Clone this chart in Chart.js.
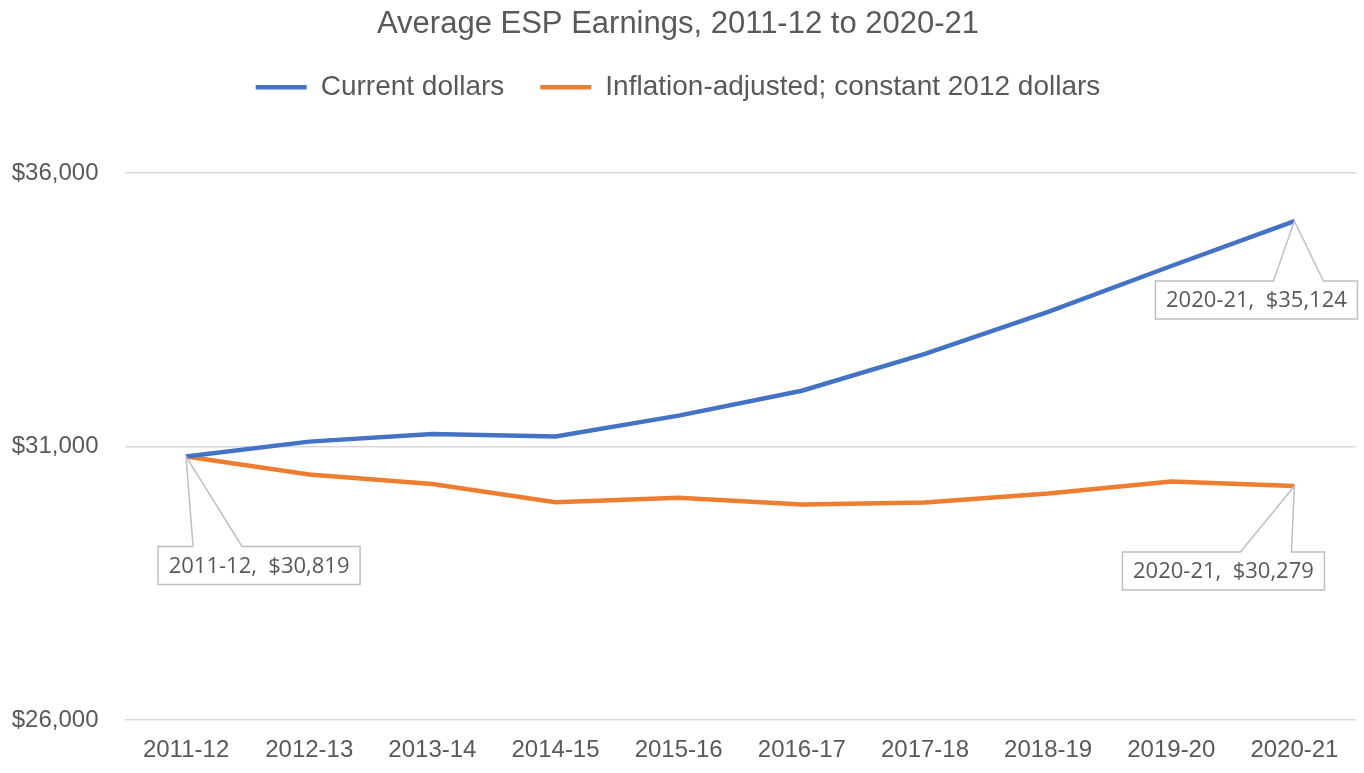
<!DOCTYPE html>
<html>
<head>
<meta charset="utf-8">
<script src="https://cdn.jsdelivr.net/npm/chart.js@4/dist/chart.umd.min.js"></script>
<style>
  html, body { margin: 0; padding: 0; background: #fff; }
  #wrap { width: 1364px; height: 773px; }
</style>
</head>
<body>
<div id="wrap"><canvas id="esp_chart"></canvas></div>
<script>
const categories = ["2011-12", "2012-13", "2013-14", "2014-15", "2015-16",
  "2016-17", "2017-18", "2018-19", "2019-20", "2020-21"];
const currentDollars = [30819, 31091, 31232, 31185, 31566, 32022, 32697, 33464, 34303, 35124];
const constantDollars = [30819, 30489, 30315, 29984, 30064, 29942, 29978, 30142, 30361, 30279];
const yTicks = [26000, 31000, 36000];

const textGrey = "#595959";
const mainFont = "'Liberation Sans', Arial, sans-serif";

function money(v) {
  return "$" + v.toLocaleString("en-US");
}

// callout boxes like excel data labels, anchored on the point
const calloutPlugin = {
  id: "callouts",
  afterDatasetsDraw(chart, args, opts) {
    const ctx = chart.ctx;
    ctx.save();
    opts.items.forEach((c) => {
      const pt = chart.getDatasetMeta(c.dataset).data[c.index];
      const val = chart.data.datasets[c.dataset].data[c.index];
      const text = chart.data.labels[c.index] + ",  " + money(val);
      const left = pt.x + c.dx;
      const top = pt.y + c.dy;
      const w = opts.width, h = opts.height;
      ctx.beginPath();
      ctx.moveTo(left, top);
      ctx.lineTo(pt.x + c.w1, top);
      ctx.lineTo(pt.x, pt.y);
      ctx.lineTo(pt.x + c.w2, top);
      ctx.lineTo(left + w, top);
      ctx.lineTo(left + w, top + h);
      ctx.lineTo(left, top + h);
      ctx.closePath();
      ctx.fillStyle = "#fff";
      ctx.fill();
      ctx.strokeStyle = "#bfbfbf";
      ctx.lineWidth = 1.5;
      ctx.stroke();
      ctx.fillStyle = textGrey;
      ctx.font = "22px 'Open Sans', sans-serif";
      ctx.textAlign = "center";
      ctx.textBaseline = "middle";
      ctx.fillText(text, left + w / 2, top + h / 2 + 1);
    });
    ctx.restore();
  },
};

// leave room under the legend, like the excel plot area
const legendSpace = {
  id: "legendSpace",
  beforeLayout(chart, args, opts) {
    const legend = chart.legend;
    if (!legend || legend._patched) return;
    const fit = legend.fit;
    legend.fit = function () {
      fit.call(this);
      this.height = opts.height;
    };
    legend._patched = true;
  },
};

const esp_ctx = document.getElementById("esp_chart");

const esp_config = {
  type: "line",
  data: {
    labels: categories,
    datasets: [
      {
        label: "Current dollars",
        data: currentDollars,
        borderColor: "#4472C4",
        backgroundColor: "#4472C4",
        borderWidth: 4.5,
        pointRadius: 0,
        tension: 0,
      },
      {
        label: "Inflation-adjusted; constant 2012 dollars",
        data: constantDollars,
        borderColor: "#ED7D31",
        backgroundColor: "#ED7D31",
        borderWidth: 4.5,
        pointRadius: 0,
        tension: 0,
      },
    ],
  },
  options: {
    responsive: true,
    maintainAspectRatio: false,
    animation: false,
    layout: { padding: { left: 0, right: 8, top: 0, bottom: 0 } },
    plugins: {
      title: {
        display: true,
        text: "Average ESP Earnings, 2011-12 to 2020-21",
        color: textGrey,
        font: { family: mainFont, size: 31, weight: "normal" },
        padding: { top: 6, bottom: -6 },
      },
      legend: {
        display: true,
        labels: {
          usePointStyle: true,
          pointStyle: "line",
          pointStyleWidth: 51,
          color: textGrey,
          font: { family: mainFont, size: 28 },
          padding: 36,
        },
      },
      legendSpace: { height: 136 },
      tooltip: { enabled: false },
      callouts: {
        width: 202,
        height: 38,
        items: [
          { dataset: 0, index: 0, dx: -28, dy: 90, w1: 7, w2: 56 },
          { dataset: 0, index: 9, dx: -139, dy: 60, w1: -21, w2: 29 },
          { dataset: 1, index: 9, dx: -172, dy: 66, w1: -54, w2: -3 },
        ],
      },
    },
    scales: {
      x: {
        offset: true,
        grid: { display: false, drawTicks: false },
        border: { display: false },
        ticks: {
          color: textGrey,
          font: { family: mainFont, size: 24 },
          padding: 16,
          maxRotation: 0,
        },
        afterFit: (scale) => {
          scale.height = 53;
        },
      },
      y: {
        min: yTicks[0],
        max: yTicks[yTicks.length - 1],
        afterBuildTicks: (scale) => {
          scale.ticks = yTicks.map((v) => ({ value: v }));
        },
        grid: { color: "#d9d9d9", lineWidth: 1.5, drawTicks: false },
        border: { display: false },
        ticks: {
          color: textGrey,
          font: { family: mainFont, size: 24 },
          padding: 26,
          callback: (v) => money(v),
        },
        afterFit: (scale) => {
          scale.width = 124.5;
        },
      },
    },
  },
  plugins: [calloutPlugin, legendSpace],
};

const esp_chart = new Chart(esp_ctx, esp_config);
</script>
</body>
</html>
